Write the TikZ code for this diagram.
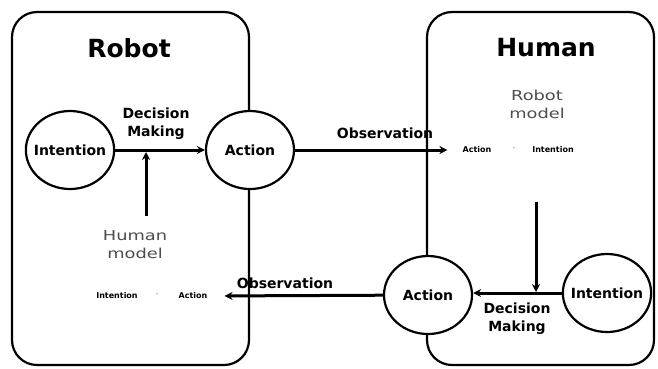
\documentclass[tikz,border=0pt]{standalone}
\usepackage{fontspec}
\setmainfont{DejaVu Sans}
\newfontfamily\modelfont[FakeStretch=1.3]{DejaVu Sans}
\usetikzlibrary{arrows.meta,shapes.geometric}
\begin{document}
\begin{tikzpicture}[x=1pt,y=-1pt,
  box/.style={draw, line width=2.2pt, rounded corners=25pt, inner sep=0pt},
  ell/.style={ellipse, draw, line width=2.2pt, fill=white, minimum width=88pt, minimum height=78pt, inner xsep=-5pt, inner ysep=0pt, font=\bfseries\fontsize{14}{16}\selectfont},
  title/.style={font=\bfseries\fontsize{25}{28}\selectfont},
  lbl/.style={font=\bfseries\fontsize{14}{18}\selectfont, align=center, inner sep=0pt},
  small/.style={font=\bfseries\fontsize{8}{9}\selectfont, inner sep=0pt},
  dashmark/.style={font=\fontsize{8}{9}\selectfont, text=black!45, inner sep=0pt},
  model/.style={font=\modelfont\fontsize{13.7}{18}\selectfont, text=black!70, align=center, inner sep=0pt},
  arr/.style={line width=3pt, -{Stealth[length=8pt,width=8pt]}}
]
\useasboundingbox (0,0) rectangle (658,368);
% boxes
\node[box, minimum width=237pt, minimum height=353pt] (rbox) at (130.5,188.5) {};
\node[box, minimum width=227pt, minimum height=353pt] (hbox) at (540.5,188.5) {};
\node[title] (rtitle) at (129,48) {Robot};
\node[title] (htitle) at (546,48) {Human};
% robot side
\node[ell] (rint) at (70,150) {Intention};
\node[ell] (ract) at (250,150) {Action};
\node[lbl] (rdm) at (156,124) {Decision\\Making};
\node[model] (rhm) at (135,245) {Human\\model};
\node[small] (rsi) at (117,296) {Intention};
\node[dashmark] (rsd) at (157,295) {-};
\node[small] (rsa) at (193,296) {Action};
% human side
\node[ell] (hint) at (607,293) {Intention};
\node[ell] (hact) at (428,295) {Action};
\node[lbl] (hdm) at (517,319) {Decision\\Making};
\node[model] (hrm) at (537,104) {Robot\\model};
\node[small] (hsa) at (477,150) {Action};
\node[dashmark] (hsd) at (514,149) {-};
\node[small] (hsi) at (553,150) {Intention};
% labels
\node[lbl] (obs1) at (385,133) {Observation};
\node[lbl] (obs2) at (285,283) {Observation};
% connector helper points
\coordinate (rup) at (146,216);
\coordinate (rjoin) at (146,152);
\coordinate (hdown) at (536,202);
\coordinate (hjoin) at (536,292);
% arrows
\draw[arr] (rint) -- (ract);
\draw[arr] (rup) -- (rjoin);
\draw[arr, shorten >=15pt] (ract) -- (hsa.west);
\draw[arr] (hint.west) -- (hact.east |- hint.west);
\draw[arr] (hdown) -- (hjoin);
\draw[arr, shorten >=17pt] (hact) -- (rsa.east);
\end{tikzpicture}
\end{document}
